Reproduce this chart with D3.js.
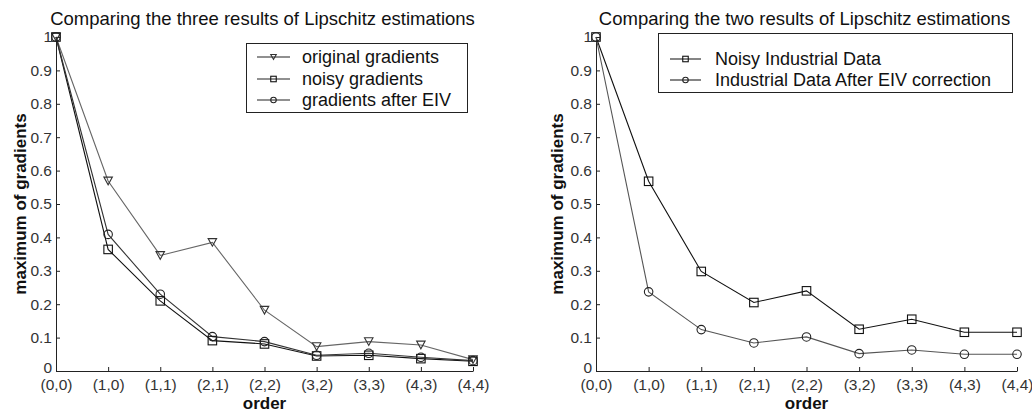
<!DOCTYPE html>
<html>
<head>
<meta charset="utf-8">
<script src="https://cdn.jsdelivr.net/npm/d3@7"></script>
<style>
  body { margin: 0; background: #fff; }
  svg { display: block; font-family: "Liberation Sans", Arial, sans-serif; }
</style>
</head>
<body>
<svg id="chart" width="1032" height="413"></svg>
<script>
const orders = ["(0,0)", "(1,0)", "(1,1)", "(2,1)", "(2,2)", "(3,2)", "(3,3)", "(4,3)", "(4,4)"];
const yTicks = [0, 0.1, 0.2, 0.3, 0.4, 0.5, 0.6, 0.7, 0.8, 0.9, 1];

// left panel
const originalGradients = [1, 0.569, 0.346, 0.385, 0.182, 0.073, 0.088, 0.078, 0.034];
const noisyGradients    = [1, 0.364, 0.210, 0.091, 0.081, 0.045, 0.047, 0.037, 0.029];
const eivGradients      = [1, 0.409, 0.230, 0.103, 0.088, 0.047, 0.053, 0.041, 0.031];

// right panel
const noisyIndustrial = [1, 0.568, 0.298, 0.205, 0.240, 0.125, 0.155, 0.116, 0.116];
const eivIndustrial   = [1, 0.237, 0.124, 0.084, 0.102, 0.052, 0.063, 0.050, 0.050];

const svg = d3.select("#chart");

const panels = [
    {
        title: "Comparing the three results of Lipschitz estimations",
        x0: 56, x1: 473, labelX: 20,
        legend: {x: 246, y: 43, w: 221, h: 69, rows: [57, 79, 100], lineX: [257, 290], textX: 302},
        series: [
            {name: "original gradients", values: originalGradients, marker: "tri", color: "#666"},
            {name: "noisy gradients", values: noisyGradients, marker: "sq", color: "#111"},
            {name: "gradients after EIV", values: eivGradients, marker: "circ", color: "#333"}
        ]
    },
    {
        title: "Comparing the two results of Lipschitz estimations",
        x0: 596, x1: 1017, labelX: 557,
        legend: {x: 658, y: 33, w: 354, h: 59, rows: [59, 80], lineX: [670, 701], textX: 715},
        series: [
            {name: "Noisy Industrial Data", values: noisyIndustrial, marker: "sq", color: "#111"},
            {name: "Industrial Data After EIV correction", values: eivIndustrial, marker: "circ", color: "#555"}
        ]
    }
];

function drawMarker(g, type, cx, cy, s) {
    if (type === "sq") {
        g.append("rect").attr("x", cx - s / 2).attr("y", cy - s / 2).attr("width", s).attr("height", s)
            .attr("fill", "none").attr("stroke", "#111").attr("stroke-width", 1.1);
    } else if (type === "circ") {
        g.append("circle").attr("cx", cx).attr("cy", cy).attr("r", s / 2)
            .attr("fill", "none").attr("stroke", "#222").attr("stroke-width", 1.1);
    } else {
        const h = s * 0.9;
        g.append("path").attr("d", `M${cx - s / 2},${cy - h / 2}L${cx + s / 2},${cy - h / 2}L${cx},${cy + h / 2}Z`)
            .attr("fill", "none").attr("stroke", "#333").attr("stroke-width", 1.1);
    }
}

const yScale = d3.scaleLinear().domain([0, 1]).range([371, 37]);

panels.forEach(p => {
    const xScale = d3.scalePoint().domain(orders).range([p.x0, p.x1]);
    const g = svg.append("g");

    g.append("text").attr("x", (p.x0 + p.x1) / 2 - 2).attr("y", 25).attr("text-anchor", "middle")
        .attr("font-size", "18.5px").attr("fill", "#111").text(p.title);

    const yAxis = g.append("g").attr("transform", `translate(${p.x0},0)`)
        .call(d3.axisLeft(yScale).tickValues(yTicks).tickSizeInner(-4).tickSizeOuter(0).tickPadding(4)
            .tickFormat(d => d === 0 ? "0" : d === 1 ? "1" : d.toFixed(1)));
    const xAxis = g.append("g").attr("transform", `translate(0,371)`)
        .call(d3.axisBottom(xScale).tickSizeInner(-4).tickSizeOuter(0).tickPadding(8));

    [yAxis, xAxis].forEach(a => {
        a.select(".domain").attr("stroke", "#222");
        a.selectAll(".tick line").attr("stroke", "#222");
        a.selectAll(".tick text").attr("font-size", "15.5px").attr("fill", "#333")
            .attr("font-family", "'Liberation Sans', Arial, sans-serif");
    });
    // zero label sits just above the first category label
    yAxis.selectAll(".tick text").filter(d => d === 0).attr("dy", "0.1em");

    g.append("text").attr("x", (p.x0 + p.x1) / 2).attr("y", 409).attr("text-anchor", "middle")
        .attr("font-size", "17px").attr("font-weight", "bold").attr("fill", "#111").text("order");
    g.append("text").attr("transform", `translate(${p.labelX + 6},${(37 + 371) / 2}) rotate(-90)`)
        .attr("text-anchor", "middle").attr("font-size", "17px").attr("font-weight", "bold").attr("fill", "#111")
        .text("maximum of gradients");

    const line = d3.line().x((d, i) => xScale(orders[i])).y(d => yScale(d));
    p.series.forEach(s => {
        g.append("path").datum(s.values).attr("d", line).attr("fill", "none")
            .attr("stroke", s.color).attr("stroke-width", 1.1);
    });
    p.series.forEach(s => {
        s.values.forEach((v, i) => drawMarker(g, s.marker, xScale(orders[i]), yScale(v), 8.5));
    });

    const L = p.legend;
    g.append("rect").attr("x", L.x + 0.5).attr("y", L.y + 0.5).attr("width", L.w).attr("height", L.h)
        .attr("fill", "#fff").attr("stroke", "#222").attr("stroke-width", 1);
    p.series.forEach((s, i) => {
        const ly = L.rows[i];
        g.append("line").attr("x1", L.lineX[0]).attr("x2", L.lineX[1]).attr("y1", ly).attr("y2", ly)
            .attr("stroke", "#222").attr("stroke-width", 1.1);
        drawMarker(g, s.marker, (L.lineX[0] + L.lineX[1]) / 2, ly, 5.5);
        g.append("text").attr("x", L.textX).attr("y", ly + 6).attr("font-size", "18px").attr("fill", "#111").text(s.name);
    });
});
</script>
</body>
</html>
